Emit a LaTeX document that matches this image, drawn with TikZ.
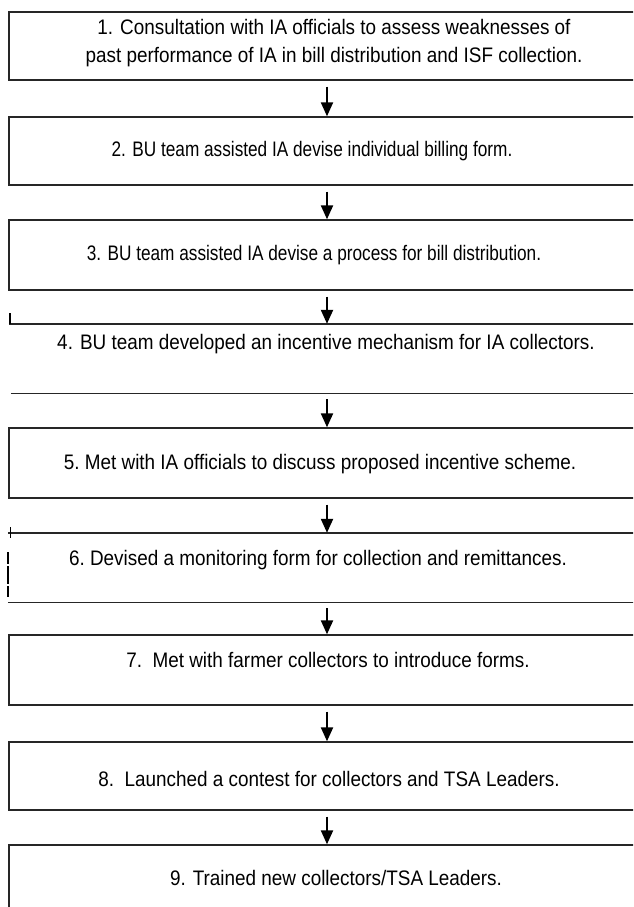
\documentclass[tikz,border=0pt]{standalone}
\usepackage{fontspec}
\setmainfont{Liberation Sans}
\newfontfamily\narrowA{Liberation Sans}[FakeStretch=0.9]
\newfontfamily\narrowB{Liberation Sans}[FakeStretch=0.82]
\usetikzlibrary{arrows.meta}
\begin{document}
\begin{tikzpicture}[x=1pt,y=-1pt,
  boxnode/.style={draw=black!85, line width=1.4pt, rectangle, minimum width=636pt, inner sep=0pt},
  bareline/.style={draw=black!85, line width=1.4pt},
  tick/.style={draw=black, line width=2pt},
  txt/.style={font=\narrowA\fontsize{21}{28}\selectfont, align=center, inner sep=0pt, text=black},
  smalltxt/.style={txt, font=\narrowB\fontsize{21}{28}\selectfont},
  flowarrow/.style={-{Triangle[length=14pt,width=12pt]}, line width=2.2pt, shorten <=6pt}]
\useasboundingbox (0,0) rectangle (633,907);
\begin{scope}
\clip (0,0) rectangle (633,907);
% boxes
\node[boxnode, minimum height=68pt] (b1) at (327,46) {};
\node[boxnode, minimum height=68pt] (b2) at (327,151) {};
\node[boxnode, minimum height=70pt] (b3) at (327,255) {};
\node[rectangle, minimum width=636pt, minimum height=69pt, inner sep=0pt] (b4) at (327,358.5) {};
\node[boxnode, minimum height=70pt] (b5) at (327,463) {};
\node[rectangle, minimum width=638pt, minimum height=69pt, inner sep=0pt] (b6) at (327,567.5) {};
\node[boxnode, minimum height=70pt] (b7) at (327,670) {};
\node[boxnode, minimum height=68pt] (b8) at (327,776) {};
\node[boxnode, minimum height=120pt] (b9) at (327,905) {};
% partial borders of boxes 4 and 6
\draw[bareline] (b4.north west) -- (b4.north east);
\draw[bareline] ([xshift=2pt]b4.south west) -- (b4.south east);
\draw[bareline] (b6.north west) -- (b6.north east);
\draw[bareline] (b6.south west) -- (b6.south east);
\coordinate (k4a) at (10,313);
\coordinate (k4b) at (10,324);
\draw[tick] (k4a) -- (k4b);
\coordinate (k6a) at (10,527);
\coordinate (k6b) at (10,538);
\draw[line width=1pt] (k6a) -- (k6b);
\coordinate (l6a) at (8,552);
\coordinate (l6b) at (8,597);
\draw[line width=1.8pt, dash pattern=on 12pt off 2pt on 18pt off 2pt on 11pt] (l6a) -- (l6b);
\end{scope}
% texts
\node[txt] (t1) at (334,43) {1. Consultation with IA officials to assess weaknesses of\\past performance of IA in bill distribution and ISF collection.};
\node[smalltxt] (t2) at (312,151) {2. BU team assisted IA devise individual billing form.};
\node[smalltxt] (t3) at (314,255) {3. BU team assisted IA devise a process for bill distribution.};
\node[txt] (t4) at (326,344) {4. BU team developed an incentive mechanism for IA collectors.};
\node[txt] (t5) at (320,464) {5.\ Met with IA officials to discuss proposed incentive scheme.};
\node[txt] (t6) at (318,560) {6.\ Devised a monitoring form for collection and remittances.};
\node[txt] (t7) at (328,660) {7.\ \ Met with farmer collectors to introduce forms.};
\node[txt] (t8) at (329,779) {8.\ \ Launched a contest for collectors and TSA Leaders.};
\node[txt] (t9) at (336,878) {9. Trained new collectors/TSA Leaders.};
% arrows
\draw[flowarrow] (b1.south) -- (b2.north);
\draw[flowarrow] (b2.south) -- (b3.north);
\draw[flowarrow] (b3.south) -- (b4.north);
\draw[flowarrow] (b4.south) -- (b5.north);
\draw[flowarrow] (b5.south) -- (b6.north);
\draw[flowarrow] (b6.south) -- (b7.north);
\draw[flowarrow] (b7.south) -- (b8.north);
\draw[flowarrow] (b8.south) -- (b9.north);
\end{tikzpicture}
\end{document}
